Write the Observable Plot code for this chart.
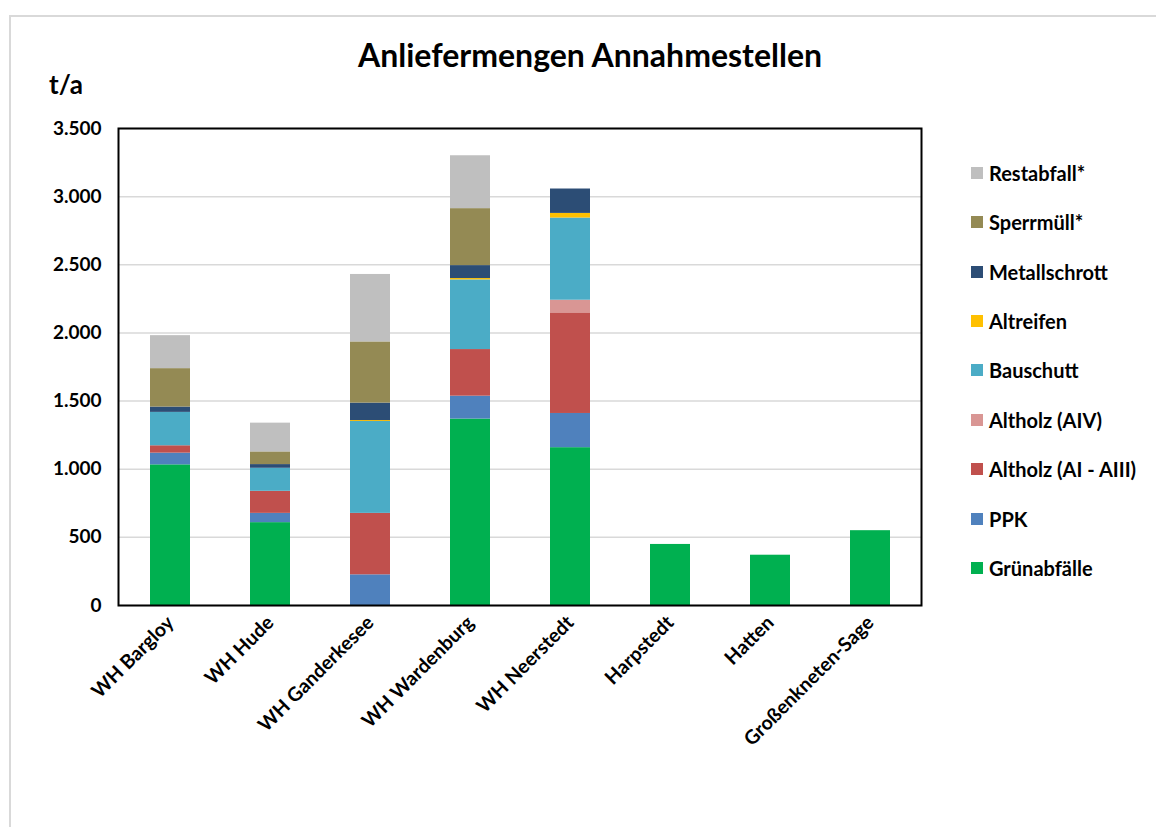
<!DOCTYPE html>
<html>
<head>
<meta charset="utf-8">
<script src="https://cdn.jsdelivr.net/npm/d3@7"></script>
<script src="https://cdn.jsdelivr.net/npm/@observablehq/plot@0.6"></script>
<style>
  html, body { margin: 0; padding: 0; background: #fff; }
  #page { position: relative; width: 1156px; height: 827px; overflow: hidden; font-family: Lato, "Open Sans", sans-serif; color: #000; }
  #border { position: absolute; left: 9px; top: 15px; width: 1200px; height: 900px; border-top: 2.5px solid #d9d9d9; border-left: 2.5px solid #d9d9d9; }
  #title { position: absolute; left: 0; width: 1180px; top: 35px; text-align: center; font-size: 32px; font-weight: 700; }
  #unit { position: absolute; left: 49px; top: 68px; font-size: 26px; font-weight: 700; }
  #chart { position: absolute; left: 0; top: 0; }
  #legend { position: absolute; left: 971px; top: 0; }
  .item { position: absolute; left: 0; display: flex; align-items: center; white-space: nowrap; font-size: 20px; font-weight: 700; transform: translateY(-50%); }
  .swatch { width: 12px; height: 12px; margin-right: 6px; }
</style>
</head>
<body>
<div id="page">
  <div id="border"></div>
  <div id="chart"></div>
  <div id="title">Anliefermengen Annahmestellen</div>
  <div id="unit">t/a</div>
  <div id="legend"></div>
</div>
<script>
// Collection points
const stations = ["WH Bargloy", "WH Hude", "WH Ganderkesee", "WH Wardenburg", "WH Neerstedt", "Harpstedt", "Hatten", "Großenkneten-Sage"];

// Delivered quantities per waste type (t/a), one value per station
const gruenabfaelle = [1032, 608, 0, 1368, 1158, 448, 369, 549];
const ppk           = [86, 68, 225, 168, 251, 0, 0, 0];
const altholzA1A3   = [54, 162, 451, 342, 738, 0, 0, 0];
const altholzA4     = [0, 0, 0, 0, 93, 0, 0, 0];
const bauschutt     = [245, 169, 674, 511, 603, 0, 0, 0];
const altreifen     = [0, 0, 7, 10, 34, 0, 0, 0];
const metallschrott = [39, 27, 128, 95, 179, 0, 0, 0];
const sperrmuell    = [282, 93, 449, 418, 0, 0, 0, 0];
const restabfall    = [242, 211, 495, 388, 0, 0, 0, 0];

// Stack order, bottom to top
const wasteTypes = ["Grünabfälle", "PPK", "Altholz (AI - AIII)", "Altholz (AIV)", "Bauschutt", "Altreifen", "Metallschrott", "Sperrmüll*", "Restabfall*"];
const wasteValues = [gruenabfaelle, ppk, altholzA1A3, altholzA4, bauschutt, altreifen, metallschrott, sperrmuell, restabfall];
const wasteColors = ["#00b050", "#4f81bd", "#c0504d", "#d99694", "#4bacc6", "#ffc000", "#2c4d75", "#948a54", "#bfbfbf"];

// Y axis ticks
const yTicks = [0, 500, 1000, 1500, 2000, 2500, 3000, 3500];

const rows = wasteTypes.flatMap((type, k) =>
  stations.map((station, i) => ({station, type, value: wasteValues[k][i]}))
);

const fmt = d3.formatLocale({decimal: ",", thousands: ".", grouping: [3], currency: ["", " €"]}).format(",");

const chart = Plot.plot({
  width: 1156,
  height: 827,
  marginLeft: 118,
  marginRight: 235,
  marginTop: 128,
  marginBottom: 222,
  style: {fontFamily: "Lato, 'Open Sans', sans-serif", fontWeight: 700, fontSize: "16px", color: "#000", background: "transparent"},
  x: {domain: stations, paddingInner: 0.6, paddingOuter: 0.3, label: null},
  y: {domain: [0, 3500], label: null},
  color: {domain: wasteTypes, range: wasteColors},
  marks: [
    Plot.gridY(yTicks, {stroke: "#d9d9d9", strokeOpacity: 1, strokeWidth: 1.5}),
    Plot.barY(rows, {x: "station", y: "value", fill: "type", order: wasteTypes}),
    Plot.frame({stroke: "#000", strokeWidth: 2}),
    Plot.axisY(yTicks, {tickSize: 0, tickPadding: 17, tickFormat: fmt, fontSize: 19, label: null}),
    Plot.axisX({tickSize: 0, tickPadding: 14, tickRotate: -45, fontSize: 19.5, label: null})
  ]
});
document.getElementById("chart").appendChild(chart);

// Legend, top to bottom in reverse stack order
const legend = document.getElementById("legend");
wasteTypes.slice().reverse().forEach((type, i) => {
  const item = document.createElement("div");
  item.className = "item";
  item.style.top = (172.7 + i * 49.4) + "px";
  const sw = document.createElement("span");
  sw.className = "swatch";
  sw.style.background = wasteColors[wasteTypes.indexOf(type)];
  const label = document.createElement("span");
  label.textContent = type;
  item.appendChild(sw);
  item.appendChild(label);
  legend.appendChild(item);
});
</script>
</body>
</html>
